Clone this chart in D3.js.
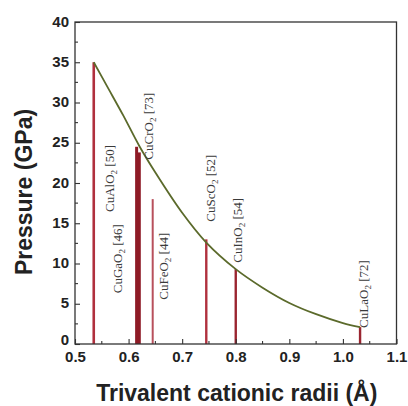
<!DOCTYPE html>
<html>
<head>
<meta charset="utf-8">
<script src="https://cdn.jsdelivr.net/npm/d3@7"></script>
<style>
  html, body { margin: 0; padding: 0; background: #fff; }
  svg { display: block; }
</style>
</head>
<body>
<svg id="chart" width="408" height="406"></svg>
<script>
// Delafossite CuMO2 compounds: trivalent cation radius vs. transition pressure
const compounds = ["CuAlO2", "CuGaO2", "CuCrO2", "CuFeO2", "CuScO2", "CuInO2", "CuLaO2"];
const refs      = [50, 46, 73, 44, 52, 54, 72];
const radii     = [0.535, 0.620, 0.615, 0.645, 0.745, 0.800, 1.032];
const pressures = [35.0, 23.8, 24.5, 18.0, 13.0, 9.3, 2.1];

// Trend curve through the compounds
const curveRadii    = [0.535, 0.560, 0.590, 0.620, 0.650, 0.700, 0.745, 0.800, 0.850, 0.900, 0.950, 1.000, 1.032];
const curvePressure = [35.0, 32.0, 28.4, 24.6, 21.3, 16.3, 12.6, 9.3, 7.0, 5.1, 3.7, 2.6, 2.1];

// Axis ticks
const xTicks = [0.5, 0.6, 0.7, 0.8, 0.9, 1.0, 1.1];
const xMinor = [0.55, 0.65, 0.75, 0.85, 0.95, 1.05];
const yTicks = [0, 5, 10, 15, 20, 25, 30, 35, 40];
const yMinor = [2.5, 7.5, 12.5, 17.5, 22.5, 27.5, 32.5, 37.5];

// Label placement: horizontal offset from the bar (px) and the pressure where the label text begins
const labelLayout = {
  CuAlO2: { dx: 16,  at: 16.4 },
  CuGaO2: { dx: -22, at: 6.3 },
  CuCrO2: { dx: 11.5, at: 22.9 },
  CuFeO2: { dx: 11,  at: 5.5 },
  CuScO2: { dx: 4,   at: 15.2 },
  CuInO2: { dx: 1.5, at: 10.1 },
  CuLaO2: { dx: 3,   at: 2.0 }
};
const barStyle = {
  CuAlO2: { color: "#b0303e", width: 2.6 },
  CuGaO2: { color: "#8e1b26", width: 3 },
  CuCrO2: { color: "#8e1b26", width: 3 },
  CuFeO2: { color: "#b8505c", width: 2 },
  CuScO2: { color: "#b0303e", width: 2.4 },
  CuInO2: { color: "#9a2530", width: 2.4 },
  CuLaO2: { color: "#9a2530", width: 2.4 }
};

const svg = d3.select("#chart");
const L = 75, R = 396.5, T = 22, B = 344;

const x = d3.scaleLinear().domain([0.5, 1.1]).range([L, R]);
const y = d3.scaleLinear().domain([0, 40]).range([B, T]);

svg.append("rect").attr("width", 408).attr("height", 406).attr("fill", "#fff");

// Bars
const bars = compounds.map((c, i) => ({ name: c, ref: refs[i], r: radii[i], p: pressures[i] }));
svg.append("g").selectAll("line").data(bars).join("line")
  .attr("x1", d => x(d.r)).attr("x2", d => x(d.r))
  .attr("y1", y(0)).attr("y2", d => y(d.p))
  .attr("stroke", d => barStyle[d.name].color)
  .attr("stroke-width", d => barStyle[d.name].width);

// Trend curve
const pts = curveRadii.map((r, i) => [r, curvePressure[i]]);
svg.append("path")
  .datum(pts)
  .attr("fill", "none")
  .attr("stroke", "#5b6a2b")
  .attr("stroke-width", 1.8)
  .attr("d", d3.line().x(d => x(d[0])).y(d => y(d[1])).curve(d3.curveCatmullRom.alpha(0.5)));

// Compound labels (rotated, with subscript)
const lab = svg.append("g")
  .attr("font-family", "'Liberation Serif', 'Times New Roman', serif")
  .attr("font-size", 13)
  .attr("fill", "#3a3a3a");
bars.forEach(d => {
  const lay = labelLayout[d.name];
  const t = lab.append("text")
    .attr("transform", `translate(${x(d.r) + lay.dx + 4.5},${y(lay.at)}) rotate(-90)`);
  t.append("tspan").text(d.name.slice(0, -1));
  t.append("tspan").attr("font-size", 9).attr("dy", 3).text("2");
  t.append("tspan").attr("dy", -3).text(` [${d.ref}]`);
});

// Axes with inward ticks
const gx = svg.append("g").attr("transform", `translate(0,${B})`)
  .call(d3.axisBottom(x).tickValues(xTicks).tickFormat(d3.format(".1f")).tickSize(-5).tickPadding(7.4));
const gy = svg.append("g").attr("transform", `translate(${L},0)`)
  .call(d3.axisLeft(y).tickValues(yTicks).tickFormat(d3.format("d")).tickSize(-5).tickPadding(6));
[gx, gy].forEach(g => {
  g.select(".domain").remove();
  g.selectAll(".tick line").attr("stroke", "#333").attr("stroke-width", 1.1);
  g.selectAll(".tick text")
    .attr("font-family", "'Liberation Sans', Arial, sans-serif")
    .attr("font-weight", "bold").attr("font-size", 15).attr("fill", "#222");
});
// the zero label sits a little higher so it clears the x-axis labels
gy.selectAll(".tick text").attr("dy", d => d === 0 ? "0.02em" : "0.28em");

// Minor ticks
svg.append("g").selectAll("line").data(xMinor).join("line")
  .attr("x1", d => x(d)).attr("x2", d => x(d)).attr("y1", B).attr("y2", B - 3)
  .attr("stroke", "#333").attr("stroke-width", 1.1);
svg.append("g").selectAll("line").data(yMinor).join("line")
  .attr("y1", d => y(d)).attr("y2", d => y(d)).attr("x1", L).attr("x2", L + 3)
  .attr("stroke", "#333").attr("stroke-width", 1.1);

// Frame
svg.append("rect")
  .attr("x", L).attr("y", T).attr("width", R - L).attr("height", B - T)
  .attr("fill", "none").attr("stroke", "#333").attr("stroke-width", 1.3);

// Axis titles
svg.append("text")
  .attr("x", (L + R) / 2 + 1).attr("y", 401)
  .attr("text-anchor", "middle")
  .attr("font-family", "'Liberation Sans', Arial, sans-serif")
  .attr("font-weight", "bold").attr("font-size", 23).attr("fill", "#222")
  .text("Trivalent cationic radii (Å)");
svg.append("text")
  .attr("transform", `translate(32,${(T + B) / 2 + 9}) rotate(-90)`)
  .attr("text-anchor", "middle")
  .attr("font-family", "'Liberation Sans', Arial, sans-serif")
  .attr("font-weight", "bold").attr("font-size", 23).attr("fill", "#222")
  .text("Pressure (GPa)");
</script>
</body>
</html>
